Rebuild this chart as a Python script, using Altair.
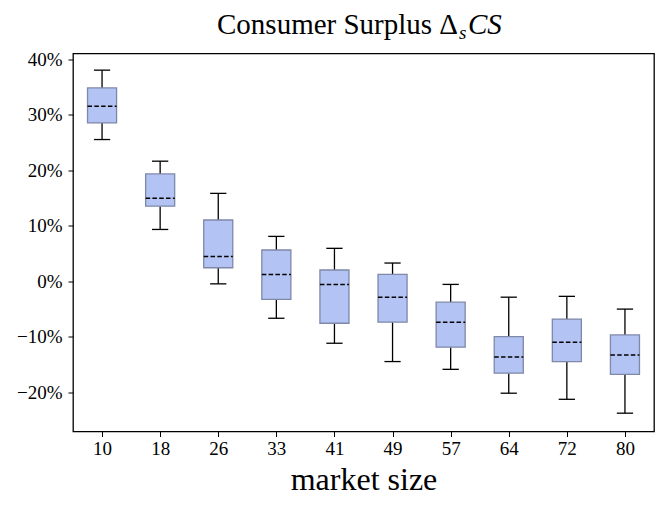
import altair as alt
import pandas as pd

# ---- data ----
categories = ["10", "18", "26", "33", "41", "49", "57", "64", "72", "80"]
whisker_low = [25.5, 9.3, -0.5, -6.7, -11.2, -14.5, -15.9, -20.2, -21.3, -23.8]
q1 = [28.5, 13.5, 2.4, -3.3, -7.6, -7.4, -11.9, -16.6, -14.5, -16.8]
median = [31.5, 14.9, 4.45, 1.2, -0.6, -2.9, -7.4, -13.7, -11.0, -13.3]
q3 = [34.8, 19.3, 11.0, 5.6, 2.0, 1.2, -3.8, -10.0, -6.85, -9.7]
whisker_high = [38.0, 21.6, 15.8, 8.05, 5.9, 3.25, -0.6, -2.9, -2.75, -5.05]
y_ticks = [-20, -10, 0, 10, 20, 30, 40]

title_main = "Consumer Surplus \u0394"
title_sub = "s"
title_tail = "CS"
x_title = "market size"

FONT = "Liberation Serif"
FILL = "#b3c3f3"
EDGE = "#7f88a8"

df = pd.DataFrame({
    "idx": list(range(len(categories))),
    "cat": categories,
    "lo": whisker_low,
    "q1": q1,
    "med": median,
    "q3": q3,
    "hi": whisker_high,
})

xscale = alt.Scale(domain=[-0.5, len(categories) - 0.5], nice=False, zero=False)
yscale = alt.Scale(domain=[-27.1, 41.0], nice=False, zero=False)

label_arr = "[" + ",".join("'%s'" % c for c in categories) + "]"
xaxis = alt.Axis(
    values=list(range(len(categories))),
    labelExpr=label_arr + "[datum.value]",
    title=x_title, grid=False, domain=False,
    tickColor="black", tickSize=5, tickWidth=1,
    labelFont=FONT, labelFontSize=19, labelColor="black", labelPadding=3,
    titleFont=FONT, titleFontSize=32, titleFontWeight="normal", titleColor="black",
    titleBaseline="alphabetic", titleY=57.5,
)
yaxis = alt.Axis(
    values=y_ticks,
    labelExpr="(datum.value < 0 ? '\u2212' + abs(datum.value) : datum.value) + '%'",
    title=None, grid=False, domain=False,
    tickColor="black", tickSize=5, tickWidth=1,
    labelFont=FONT, labelFontSize=19, labelColor="black", labelPadding=6,
)


def X(field):
    return alt.X(field, type="quantitative", scale=xscale, axis=xaxis)


def Y(field):
    return alt.Y(field, type="quantitative", scale=yscale, axis=yaxis)


base = alt.Chart(df).transform_calculate(
    left="datum.idx - 0.25",
    right="datum.idx + 0.25",
    capl="datum.idx - 0.14",
    capr="datum.idx + 0.14",
)

whisk_lo = base.mark_rule(color="black", strokeWidth=1.3).encode(
    x=X("idx"), y=Y("lo"), y2="q1")
whisk_hi = base.mark_rule(color="black", strokeWidth=1.3).encode(
    x=X("idx"), y=Y("q3"), y2="hi")
cap_lo = base.mark_rule(color="black", strokeWidth=1.3).encode(
    x=X("capl"), x2="capr", y=Y("lo"))
cap_hi = base.mark_rule(color="black", strokeWidth=1.3).encode(
    x=X("capl"), x2="capr", y=Y("hi"))
box = base.mark_rect(fill=FILL, stroke=EDGE, strokeWidth=1.3).encode(
    x=X("left"), x2="right", y=Y("q1"), y2="q3")
med = base.mark_rule(color="black", strokeWidth=1.5, strokeDash=[4.5, 2.3]).encode(
    x=X("left"), x2="right", y=Y("med"))

t1 = alt.Chart(pd.DataFrame({"t": [title_main]})).mark_text(
    font=FONT, fontSize=29, align="right", baseline="alphabetic", color="black"
).encode(text="t:N", x=alt.value(385), y=alt.value(-19.5))
t2 = alt.Chart(pd.DataFrame({"t": [title_sub]})).mark_text(
    font=FONT, fontSize=19, fontStyle="italic", align="left", baseline="alphabetic", color="black"
).encode(text="t:N", x=alt.value(386), y=alt.value(-14.5))
t3 = alt.Chart(pd.DataFrame({"t": [title_tail]})).mark_text(
    font=FONT, fontSize=29, fontStyle="italic", align="left", baseline="alphabetic", color="black"
).encode(text="t:N", x=alt.value(395), y=alt.value(-19.5))

chart = alt.layer(whisk_lo, whisk_hi, cap_lo, cap_hi, box, med, t1, t2, t3).properties(
    width=581, height=378,
    autosize=alt.AutoSizeParams(type="none"),
    padding={"left": 65, "top": 45.5, "right": 2, "bottom": 65},
    background="white",
).configure_view(stroke="black", strokeWidth=1.3)

chart.save("out.html", embed_options={"renderer": "svg", "actions": False})
